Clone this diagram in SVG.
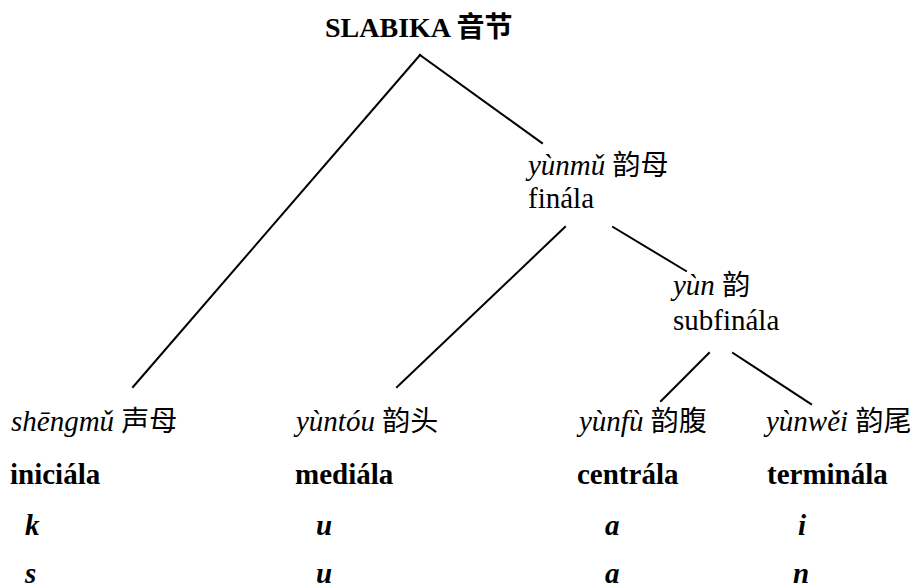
<svg xmlns="http://www.w3.org/2000/svg" width="917" height="586" viewBox="0 0 917 586">
  <style>
    text { font-family: "Liberation Serif", "Times New Roman", Tinos, "DejaVu Serif", serif; font-size: 29px; fill: #000; }
    .b { font-weight: bold; }
    .i { font-style: italic; }
    .bi { font-weight: bold; font-style: italic; }
    .cjk { font-family: "Noto Sans CJK SC", sans-serif; font-size: 28px; font-weight: normal; font-style: normal; }
    .cjkb { font-family: "Noto Sans CJK SC", sans-serif; font-size: 28px; font-weight: bold; }
    .edge { stroke: #000; stroke-width: 2; fill: none; stroke-linecap: square; }
  </style>

  <!-- tree branches -->
  <g id="connectors">
    <line class="edge" x1="420" y1="55" x2="133" y2="387"/>
    <line class="edge" x1="420" y1="55" x2="542" y2="143"/>
    <line class="edge" x1="565" y1="227" x2="397" y2="387"/>
    <line class="edge" x1="613" y1="227" x2="686" y2="271"/>
    <line class="edge" x1="709" y1="353" x2="661" y2="401"/>
    <line class="edge" x1="733" y1="353" x2="811" y2="404"/>
  </g>

  <g id="syllable">
    <text x="325" y="37" class="b" style="font-size:28px">SLABIKA <tspan class="cjkb">音节</tspan></text>
  </g>

  <g id="final">
    <text x="528" y="175"><tspan class="i">yùnmǔ</tspan> <tspan class="cjk">韵母</tspan></text>
    <text x="528" y="208">finála</text>
  </g>

  <g id="subfinal">
    <text x="673" y="295"><tspan class="i">yùn</tspan> <tspan class="cjk">韵</tspan></text>
    <text x="673" y="330">subfinála</text>
  </g>

  <g id="initial">
    <text x="11" y="431"><tspan class="i">shēngmǔ</tspan> <tspan class="cjk">声母</tspan></text>
    <text x="10" y="484" class="b">iniciála</text>
    <text x="25" y="535" class="bi">k</text>
    <text x="25" y="583" class="bi">s</text>
  </g>

  <g id="medial">
    <text x="296" y="431"><tspan class="i">yùntóu</tspan> <tspan class="cjk">韵头</tspan></text>
    <text x="295" y="484" class="b">mediála</text>
    <text x="316" y="535" class="bi">u</text>
    <text x="316" y="583" class="bi">u</text>
  </g>

  <g id="central">
    <text x="579" y="431"><tspan class="i">yùnfù</tspan> <tspan class="cjk">韵腹</tspan></text>
    <text x="577" y="484" class="b">centrála</text>
    <text x="605" y="535" class="bi">a</text>
    <text x="605" y="583" class="bi">a</text>
  </g>

  <g id="terminal">
    <text x="766" y="431"><tspan class="i">yùnwěi</tspan> <tspan class="cjk">韵尾</tspan></text>
    <text x="767" y="484" class="b">terminála</text>
    <text x="798" y="535" class="bi">i</text>
    <text x="793" y="583" class="bi">n</text>
  </g>
</svg>
